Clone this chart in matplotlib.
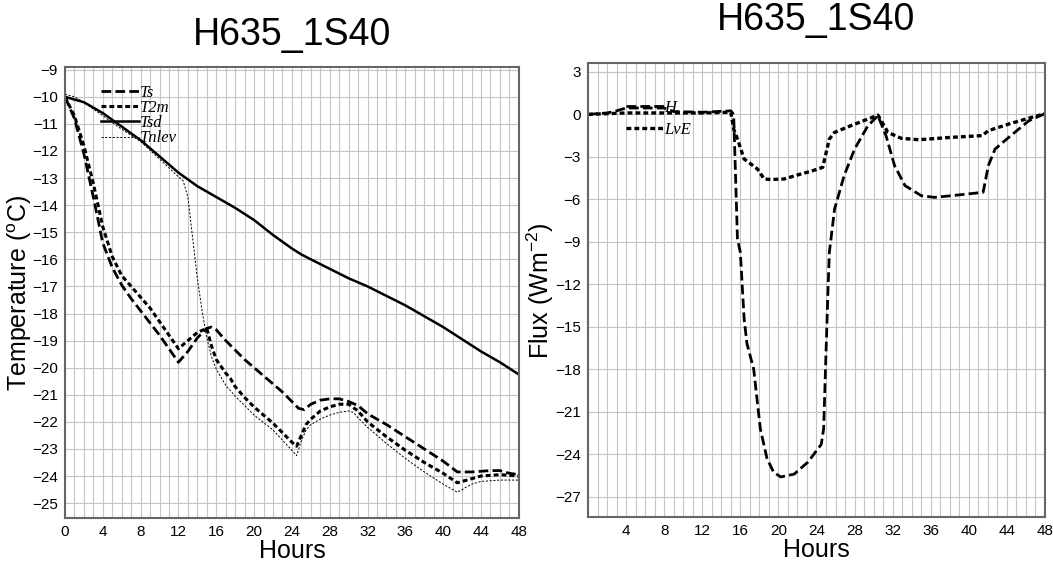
import matplotlib
matplotlib.use("Agg")
import matplotlib.pyplot as plt
import numpy as np

plt.rcParams['font.family'] = ['Liberation Sans', 'DejaVu Sans']
plt.rcParams['lines.scale_dashes'] = False

title = "H635_1S40"

# Left panel: temperatures (hours, degC)
ts_h = [0, 1, 2, 3, 4, 5, 6, 7, 8, 9, 10, 11, 12, 13, 14, 15, 15.5, 16, 17, 18, 19, 20,
        21, 22, 23, 24, 24.7, 25.3, 26, 27, 28, 29, 30, 31, 32, 34, 36, 38, 40, 41.5,
        43, 45, 46, 47, 48]
ts_v = [-10.0, -10.8, -12.1, -13.7, -15.4, -16.3, -16.95, -17.45, -17.9, -18.35, -18.8,
        -19.3, -19.8, -19.4, -18.9, -18.55, -18.5, -18.6, -19.0, -19.35, -19.7, -20.0,
        -20.3, -20.6, -20.9, -21.25, -21.5, -21.55, -21.35, -21.2, -21.15, -21.15, -21.25,
        -21.4, -21.7, -22.1, -22.55, -23.0, -23.45, -23.85, -23.85, -23.8, -23.8, -23.9,
        -23.95]

t2m_h = [0, 1, 2, 3, 4, 5, 6, 7, 8, 9, 10, 11, 12, 13, 14, 15, 15.5, 16, 17, 17.5, 18,
         19, 20, 21, 22, 23, 24, 24.5, 25, 25.5, 26, 27, 28, 29, 30, 31, 32, 34, 36, 38,
         40, 41.5, 42, 43, 44, 46, 48]
t2m_v = [-10.0, -10.7, -11.8, -13.2, -14.8, -15.9, -16.6, -17.0, -17.4, -17.8, -18.3,
         -18.8, -19.3, -19.0, -18.7, -18.55, -19.2, -19.7, -20.2, -20.4, -20.7, -21.1,
         -21.45, -21.75, -22.05, -22.4, -22.75, -22.9, -22.5, -22.1, -21.9, -21.6, -21.45,
         -21.35, -21.35, -21.6, -22.0, -22.55, -23.05, -23.5, -23.9, -24.25, -24.2, -24.1,
         -24.0, -23.95, -24.0]

tsd_h = [0, 2, 4, 6, 8, 10, 12, 14, 16, 18, 20, 22, 23, 24, 25, 26, 28, 30, 32, 34, 36,
         38, 40, 42, 44, 46, 48]
tsd_v = [-10.0, -10.2, -10.6, -11.1, -11.6, -12.2, -12.8, -13.3, -13.7, -14.1, -14.55,
         -15.1, -15.35, -15.6, -15.82, -16.0, -16.35, -16.7, -17.0, -17.35, -17.7, -18.1,
         -18.5, -18.95, -19.4, -19.8, -20.25]

tnlev_h = [0, 1, 2, 3, 4, 5, 6, 8, 10, 12, 12.5, 13, 13.5, 14, 14.5, 15, 15.5, 16, 17,
           18, 20, 22, 24, 24.5, 25, 25.5, 26, 27, 28, 29, 30, 30.5, 31, 32, 34, 36, 38,
           40, 41.5, 42, 43, 44, 46, 48]
tnlev_v = [-9.9, -10.0, -10.2, -10.45, -10.7, -10.95, -11.2, -11.65, -12.3, -12.95, -13.1,
           -13.7, -15.2, -16.7, -17.9, -18.9, -19.6, -20.05, -20.65, -21.05, -21.75, -22.3,
           -23.05, -23.25, -22.7, -22.3, -22.1, -21.9, -21.75, -21.65, -21.6, -21.65,
           -21.85, -22.2, -22.8, -23.35, -23.85, -24.3, -24.6, -24.5, -24.3, -24.2, -24.15,
           -24.15]

# Right panel: fluxes (hours, W m-2)
h_h = [0, 2, 3, 4, 8, 9, 12, 15, 15.3, 15.7, 16.0, 16.4, 16.7, 17.4, 18.1, 18.8, 19.5,
       20.25, 21.65, 23.1, 24.5, 24.75, 25.0, 25.2, 25.35, 25.9, 26.9, 28.0, 29.4, 30.45,
       31.3, 32.2, 33.3, 35.0, 36.4, 38.9, 41.5, 42.05, 42.75, 44.2, 46.3, 48]
h_v = [0.0, 0.1, 0.25, 0.45, 0.45, 0.2, 0.15, 0.25, 0.0, -8.8, -9.74, -14.45, -16.2,
       -17.97, -22.2, -24.3, -25.27, -25.6, -25.4, -24.55, -23.3, -22.2, -16.8, -12.56,
       -9.74, -6.68, -4.33, -2.45, -0.8, -0.1, -1.5, -3.62, -5.03, -5.74, -5.86, -5.69,
       -5.5, -3.62, -2.45, -1.62, -0.45, 0.05]

lve_h = [0, 4, 8, 12, 15, 15.3, 15.7, 16.4, 17.1, 17.8, 18.5, 19.2, 20.6, 22.4, 23.5,
         24.65, 25.35, 25.9, 27.6, 29.4, 30.45, 31.5, 32.9, 34.7, 38.2, 41.4, 42.05, 44.2,
         46.6, 48]
lve_v = [0.0, 0.1, 0.1, 0.1, 0.15, -1.04, -1.74, -3.15, -3.5, -3.86, -4.56, -4.6, -4.56,
         -4.2, -4.0, -3.74, -1.74, -1.27, -0.8, -0.33, -0.05, -1.27, -1.69, -1.79, -1.62,
         -1.5, -1.15, -0.68, -0.21, 0.05]

fig = plt.figure(figsize=(10.53, 5.66), dpi=100)
ax1 = fig.add_axes([0.0617, 0.0848, 0.431, 0.7968])
ax2 = fig.add_axes([0.5584, 0.086, 0.434, 0.802])

legend_font = {'family': 'Liberation Serif', 'style': 'italic', 'size': 12}

# Temperature panel
ax1.plot(ts_h, ts_v, color='black', lw=2.0, dashes=(7, 3), label='Ts')
ax1.plot(t2m_h, t2m_v, color='black', lw=2.2, dashes=(3.5, 2.2), label='T2m')
ax1.plot(tsd_h, tsd_v, color='black', lw=1.8, label='Tsd')
ax1.plot(tnlev_h, tnlev_v, color='black', lw=0.7, dashes=(1.5, 1.2), label='Tnlev')
ax1.set_xlim(0, 48)
ax1.set_ylim(-25.55, -8.9)
ax1.set_xticks(np.arange(0, 49, 4))
ax1.set_xticks(np.arange(0, 49, 1), minor=True)
ax1.set_yticks(np.arange(-25, -8, 1))
ax1.set_ylabel("Temperature ($^{\\mathregular{o}}$C)", fontsize=18, labelpad=-1.5)
ax1.set_title(title, fontsize=27, pad=16)
ax1.legend(loc='upper left', bbox_to_anchor=(0.065, 0.975), frameon=False, prop=legend_font,
           handlelength=2.3, handletextpad=0.0, labelspacing=-0.05, borderaxespad=0)

# Flux panel
ax2.plot(h_h, h_v, color='black', lw=2.0, dashes=(7, 3), label='H')
ax2.plot(lve_h, lve_v, color='black', lw=2.4, dashes=(3.5, 2.2), label='LvE')
ax2.set_xlim(0, 48)
ax2.set_ylim(-28.45, 3.6)
ax2.set_xticks(np.arange(4, 49, 4))
ax2.set_xticks(np.arange(0, 49, 1), minor=True)
ax2.set_yticks(np.arange(-27, 4, 3))
ax2.set_ylabel("Flux (Wm$^{\\mathregular{-2}}$)", fontsize=18, labelpad=-0.5)
ax2.set_title(title, fontsize=27, pad=24)
ax2.legend(loc='upper left', bbox_to_anchor=(0.068, 0.935), frameon=False, prop=legend_font,
           handlelength=2.3, handletextpad=0.0, labelspacing=0.4, borderaxespad=0)

for ax in (ax1, ax2):
    ax.set_xlabel("Hours", fontsize=18, labelpad=0)
    ax.grid(True, which='both', axis='x', color='#c4c4c4', lw=0.8)
    ax.grid(True, which='major', axis='y', color='#c4c4c4', lw=0.8)
    ax.set_axisbelow(True)
    ax.tick_params(which='both', length=0, labelsize=11, pad=5)
    for sp in ax.spines.values():
        sp.set_color('#666666')
        sp.set_linewidth(1.5)

fig.savefig("out.png", dpi=100)
